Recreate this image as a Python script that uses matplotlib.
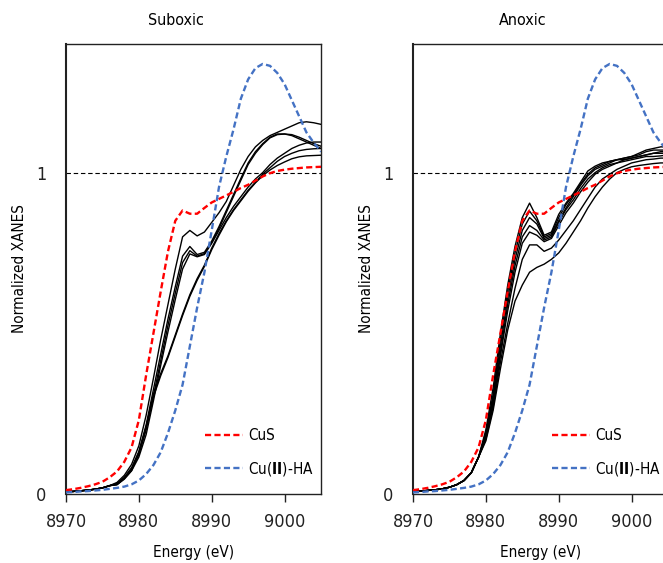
import matplotlib
matplotlib.use("Agg")
import matplotlib.pyplot as plt

plt.rcParams['font.family'] = ['DejaVu Sans']
plt.rcParams['font.stretch'] = 'condensed'
plt.rcParams['mathtext.fontset'] = 'custom'
plt.rcParams['mathtext.rm'] = 'DejaVu Sans'
plt.rcParams['mathtext.bf'] = 'DejaVu Sans:bold'

energy = list(range(8970, 9006))

cus = [0.012, 0.015, 0.019, 0.024, 0.030, 0.038, 0.052, 0.070, 0.100, 0.145,
       0.230, 0.370, 0.500, 0.630, 0.755, 0.850, 0.882, 0.872, 0.872, 0.890,
       0.907, 0.918, 0.929, 0.940, 0.952, 0.962, 0.975, 0.988, 0.998, 1.005,
       1.009, 1.012, 1.014, 1.016, 1.017, 1.018]

cu_ha = [0.005, 0.006, 0.008, 0.009, 0.011, 0.013, 0.016, 0.019, 0.023, 0.030,
         0.042, 0.062, 0.090, 0.130, 0.190, 0.260, 0.340, 0.460, 0.580, 0.690,
         0.820, 0.955, 1.050, 1.135, 1.230, 1.290, 1.325, 1.338, 1.332, 1.310,
         1.275, 1.225, 1.175, 1.125, 1.093, 1.065]

# suboxic samples: 8970-8976 shared, then 8977-9005
sub_base = [0.007, 0.008, 0.010, 0.012, 0.015, 0.019, 0.026]
suboxic = [
    [0.036, 0.058, 0.092, 0.150, 0.245, 0.360, 0.480, 0.590, 0.700, 0.800,
     0.820, 0.803, 0.815, 0.845, 0.875, 0.910, 0.960, 1.010, 1.050, 1.080,
     1.100, 1.115, 1.125, 1.135, 1.145, 1.155, 1.158, 1.155, 1.150],
    [0.033, 0.052, 0.082, 0.132, 0.215, 0.325, 0.435, 0.545, 0.645, 0.740,
     0.770, 0.745, 0.752, 0.787, 0.832, 0.882, 0.932, 0.982, 1.030, 1.065,
     1.090, 1.110, 1.120, 1.120, 1.115, 1.105, 1.095, 1.085, 1.075],
    [0.031, 0.049, 0.077, 0.123, 0.200, 0.305, 0.415, 0.525, 0.625, 0.720,
     0.757, 0.740, 0.748, 0.782, 0.826, 0.876, 0.926, 0.976, 1.025, 1.060,
     1.087, 1.108, 1.118, 1.120, 1.118, 1.110, 1.100, 1.090, 1.082],
    [0.029, 0.046, 0.072, 0.115, 0.185, 0.290, 0.400, 0.505, 0.605, 0.700,
     0.747, 0.738, 0.745, 0.780, 0.820, 0.860, 0.895, 0.925, 0.955, 0.980,
     1.000, 1.025, 1.045, 1.060, 1.075, 1.085, 1.092, 1.095, 1.095],
    [0.030, 0.049, 0.075, 0.130, 0.210, 0.310, 0.375, 0.430, 0.495, 0.560,
     0.620, 0.670, 0.712, 0.765, 0.810, 0.850, 0.885, 0.915, 0.945, 0.970,
     0.995, 1.015, 1.035, 1.050, 1.060, 1.068, 1.072, 1.074, 1.075],
    [0.029, 0.048, 0.073, 0.126, 0.205, 0.302, 0.368, 0.425, 0.490, 0.555,
     0.615, 0.665, 0.708, 0.760, 0.805, 0.847, 0.882, 0.912, 0.942, 0.968,
     0.990, 1.008, 1.022, 1.033, 1.043, 1.049, 1.052, 1.053, 1.054],
]

# anoxic samples: 8970-8979 shared, then 8980-9005
an_base = [0.008, 0.009, 0.011, 0.013, 0.016, 0.021, 0.029, 0.042, 0.066, 0.115]
anoxic = [
    [0.200, 0.330, 0.500, 0.650, 0.770, 0.860, 0.905, 0.860, 0.805, 0.815,
     0.870, 0.905, 0.935, 0.970, 1.005, 1.020, 1.030, 1.035, 1.040, 1.045,
     1.050, 1.060, 1.070, 1.075, 1.080, 1.080],
    [0.190, 0.310, 0.480, 0.630, 0.750, 0.840, 0.880, 0.850, 0.800, 0.810,
     0.860, 0.900, 0.930, 0.965, 0.995, 1.015, 1.025, 1.035, 1.040, 1.040,
     1.045, 1.050, 1.055, 1.060, 1.065, 1.065],
    [0.185, 0.300, 0.460, 0.610, 0.730, 0.820, 0.860, 0.840, 0.795, 0.805,
     0.850, 0.890, 0.925, 0.960, 0.990, 1.010, 1.020, 1.030, 1.040, 1.045,
     1.050, 1.055, 1.065, 1.070, 1.070, 1.070],
    [0.180, 0.290, 0.440, 0.590, 0.710, 0.800, 0.835, 0.820, 0.790, 0.800,
     0.845, 0.885, 0.915, 0.950, 0.980, 1.000, 1.015, 1.025, 1.030, 1.035,
     1.040, 1.045, 1.050, 1.050, 1.052, 1.055],
    [0.175, 0.280, 0.430, 0.570, 0.690, 0.780, 0.815, 0.805, 0.785, 0.795,
     0.835, 0.875, 0.905, 0.940, 0.970, 0.995, 1.010, 1.020, 1.030, 1.040,
     1.045, 1.050, 1.055, 1.060, 1.060, 1.060],
    [0.170, 0.270, 0.410, 0.530, 0.640, 0.730, 0.775, 0.775, 0.755, 0.765,
     0.790, 0.820, 0.850, 0.885, 0.920, 0.955, 0.980, 0.995, 1.010, 1.020,
     1.030, 1.035, 1.040, 1.042, 1.045, 1.045],
    [0.165, 0.260, 0.390, 0.510, 0.600, 0.650, 0.690, 0.705, 0.715, 0.730,
     0.750, 0.780, 0.815, 0.850, 0.890, 0.925, 0.955, 0.980, 1.000, 1.010,
     1.018, 1.022, 1.025, 1.028, 1.030, 1.030],
]

panels = [("Suboxic", sub_base, suboxic), ("Anoxic", an_base, anoxic)]
xticks = [8970, 8980, 8990, 9000]

fig = plt.figure(figsize=(6.63, 5.63), dpi=100)
lefts = [66 / 663, 413 / 663]

for left, (title, base, samples) in zip(lefts, panels):
    ax = fig.add_axes([left, 69 / 563, 255 / 663, 450 / 563])
    for s in samples:
        ax.plot(energy, base + s, color='black', lw=1.0, zorder=3)
    ax.axhline(1, color='black', lw=0.8, ls=(0, (4, 2.5)), zorder=2)
    ax.plot(energy, cus, color='#ff0000', lw=1.7, ls=(0, (2.6, 1.4)),
            label='CuS', zorder=4)
    ax.plot(energy, cu_ha, color='#4472c4', lw=1.7, ls=(0, (2.6, 1.4)),
            label=r'Cu($\mathbf{II}$)-HA', zorder=4)

    ax.set_xlim(8970, 9005)
    ax.set_ylim(0, 1.4)
    ax.set_xticks(xticks)
    ax.set_yticks([0, 1])
    ax.tick_params(axis='x', length=6, width=1, pad=8, labelsize=13,
                   colors='#222222')
    ax.tick_params(axis='y', length=0, pad=14, labelsize=13, colors='#222222')
    for sp in ax.spines.values():
        sp.set_color('#222222')
        sp.set_linewidth(1.0)
    ax.spines['left'].set_linewidth(1.5)

    ax.set_xlabel('Energy (eV)', fontsize=11, va='center')
    ax.xaxis.set_label_coords(0.5, -0.129)
    ax.set_ylabel('Normalized XANES', fontsize=11, va='center')
    ax.yaxis.set_label_coords(-0.182, 0.5)
    ax.text(0.43, 1.053, title, transform=ax.transAxes, ha='center',
            va='center', fontsize=11.5)
    ax.legend(loc='lower left', bbox_to_anchor=(0.544, 0.035), frameon=False,
              fontsize=11, handlelength=2.5, handletextpad=0.35,
              labelspacing=1.1, borderpad=0, borderaxespad=0)

fig.savefig('out.png', dpi=100)
